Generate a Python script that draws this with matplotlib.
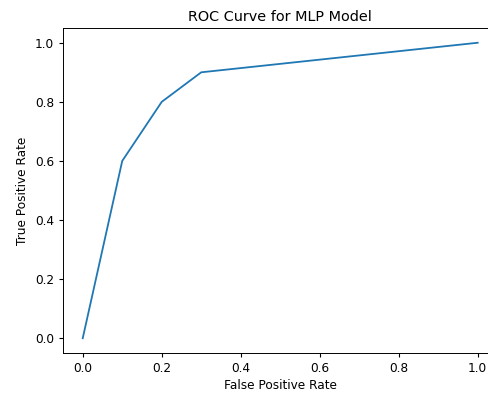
import matplotlib
matplotlib.use("Agg")
import matplotlib.pyplot as plt

fpr = [0.0, 0.1, 0.2, 0.3, 1.0]
tpr = [0.0, 0.6, 0.8, 0.9, 1.0]

plt.rcParams['font.size'] = 8.7
plt.rcParams['axes.titlesize'] = 10.4
plt.rcParams['xtick.major.size'] = 3
plt.rcParams['ytick.major.size'] = 3
plt.rcParams['axes.linewidth'] = 0.7

fig = plt.figure(figsize=(4.89, 3.93), dpi=100)
ax = fig.add_axes([0.1288, 0.1018, 0.8885, 0.827])
ax.plot(fpr, tpr, linewidth=1.3)
ax.set_xlabel('False Positive Rate', labelpad=3)
ax.set_ylabel('True Positive Rate')
ax.set_title('ROC Curve for MLP Model', pad=5)
fig.savefig('out.png', dpi=100)
